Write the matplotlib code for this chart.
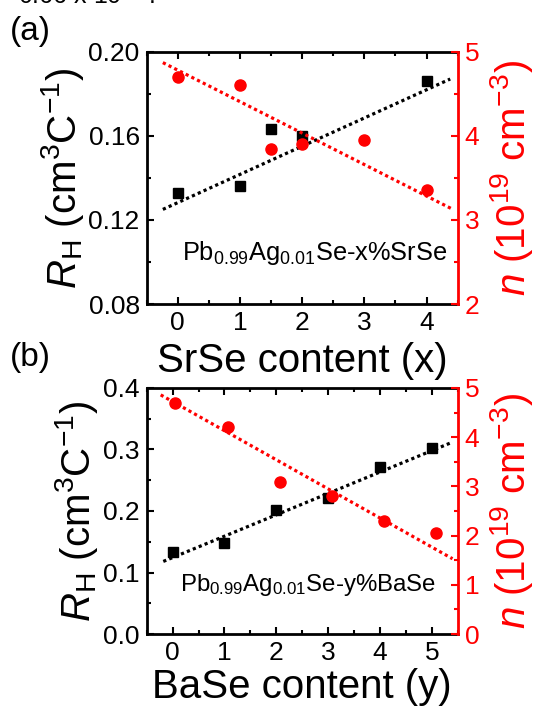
import matplotlib
matplotlib.use('Agg')
import matplotlib.pyplot as plt
from matplotlib.ticker import MultipleLocator, FormatStrFormatter

plt.rcParams['font.family'] = ['Liberation Sans', 'DejaVu Sans']
plt.rcParams['mathtext.fontset'] = 'custom'
plt.rcParams['mathtext.rm'] = 'Liberation Sans'
plt.rcParams['mathtext.it'] = 'Liberation Sans:italic'
plt.rcParams['mathtext.bf'] = 'Liberation Sans:bold'

# (a) Pb0.99Ag0.01Se - x% SrSe
x_sr = [0, 1, 1.5, 2, 4]
rh_sr = [0.133, 0.136, 0.163, 0.160, 0.186]
xn_sr = [0, 1, 1.5, 2, 3, 4]
n_sr = [4.70, 4.60, 3.84, 3.90, 3.95, 3.36]
fit_x_rh_sr = [-0.24, 4.38]
fit_rh_sr = [0.125, 0.187]
fit_x_n_sr = [-0.24, 4.41]
fit_n_sr = [4.87, 3.13]

# (b) Pb0.99Ag0.01Se - y% BaSe
x_ba = [0, 1, 2, 3, 4, 5]
rh_ba = [0.133, 0.148, 0.202, 0.221, 0.271, 0.303]
xn_ba = [0.05, 1.06, 2.07, 3.07, 4.08, 5.09]
n_ba = [4.69, 4.21, 3.08, 2.81, 2.30, 2.06]
fit_x_rh_ba = [-0.18, 5.40]
fit_rh_ba = [0.118, 0.312]
fit_x_n_ba = [-0.23, 5.40]
fit_n_ba = [4.86, 1.53]

dot = (0, (1, 1))

fig = plt.figure(figsize=(5.34, 7.08), dpi=100)
ax1 = fig.add_axes([0.2747, 0.5706, 0.5824, 0.3564])
ax2 = fig.add_axes([0.2747, 0.1045, 0.5824, 0.3475])


def setup(ax, tw, xlim, ylim, ymaj, yfmt, nlim, xlabel, xpad):
    ax.set_xlim(*xlim)
    ax.set_ylim(*ylim)
    ax.xaxis.set_major_locator(MultipleLocator(1))
    ax.xaxis.set_minor_locator(MultipleLocator(0.5))
    ax.yaxis.set_major_locator(MultipleLocator(ymaj))
    ax.yaxis.set_minor_locator(MultipleLocator(ymaj / 2))
    ax.yaxis.set_major_formatter(FormatStrFormatter(yfmt))
    ax.tick_params(which='both', direction='in', top=True, right=False,
                   width=1.5, labelsize=19, pad=5)
    ax.tick_params(which='major', length=5)
    ax.tick_params(which='minor', length=3)
    for s in ax.spines.values():
        s.set_linewidth(2)
    ax.spines['right'].set_visible(False)
    ax.set_xlabel(xlabel, fontsize=29, labelpad=xpad)
    ax.set_ylabel(r'$R_{\rm H}$ (cm$^3$C$^{-1}$)', fontsize=29, labelpad=2)

    tw.set_ylim(*nlim)
    tw.yaxis.set_major_locator(MultipleLocator(1))
    tw.yaxis.set_minor_locator(MultipleLocator(0.5))
    tw.tick_params(axis='y', which='both', direction='in', colors='red',
                   width=1.5, labelsize=19, pad=5)
    tw.tick_params(axis='y', which='major', length=5)
    tw.tick_params(axis='y', which='minor', length=3)
    for k in ['left', 'top', 'bottom']:
        tw.spines[k].set_visible(False)
    tw.spines['right'].set_color('red')
    tw.spines['right'].set_linewidth(2)
    tw.set_ylabel(r'$n$ (10$^{19}$ cm$^{-3}$)', fontsize=29, color='red',
                  labelpad=6)


# panel (a)
ax1.plot(x_sr, rh_sr, 's', color='black', ms=7.5)
ax1.plot(fit_x_rh_sr, fit_rh_sr, color='black', ls=dot, lw=2.3)
tw1 = ax1.twinx()
tw1.plot(xn_sr, n_sr, 'o', color='red', ms=8)
tw1.plot(fit_x_n_sr, fit_n_sr, color='red', ls=dot, lw=2.3)
setup(ax1, tw1, (-0.5, 4.5), (0.08, 0.20), 0.04, '%.2f', (2, 5),
      'SrSe content (x)', 5)
ax1.text(0.112, 0.175, r'Pb$_{0.99}$Ag$_{0.01}$Se-x%SrSe', fontsize=18.3,
         transform=ax1.transAxes)

# panel (b)
ax2.plot(x_ba, rh_ba, 's', color='black', ms=7.5)
ax2.plot(fit_x_rh_ba, fit_rh_ba, color='black', ls=dot, lw=2.3)
tw2 = ax2.twinx()
tw2.plot(xn_ba, n_ba, 'o', color='red', ms=8)
tw2.plot(fit_x_n_ba, fit_n_ba, color='red', ls=dot, lw=2.3)
setup(ax2, tw2, (-0.5, 5.5), (0.0, 0.4), 0.1, '%.1f', (0, 5),
      'BaSe content (y)', 2)
ax2.text(0.108, 0.173, r'Pb$_{0.99}$Ag$_{0.01}$Se-y%BaSe', fontsize=17.3,
         transform=ax2.transAxes)

fig.text(10 / 534, 1 - 16 / 708, '(a)', fontsize=24, va='top')
fig.text(10 / 534, 1 - 342 / 708, '(b)', fontsize=24, va='top')
fig.text(18 / 534, 1 - 4 / 708, r'0.66 x 10$^{-4}$ .', fontsize=18,
         va='baseline')

fig.savefig('out.png', dpi=100)
